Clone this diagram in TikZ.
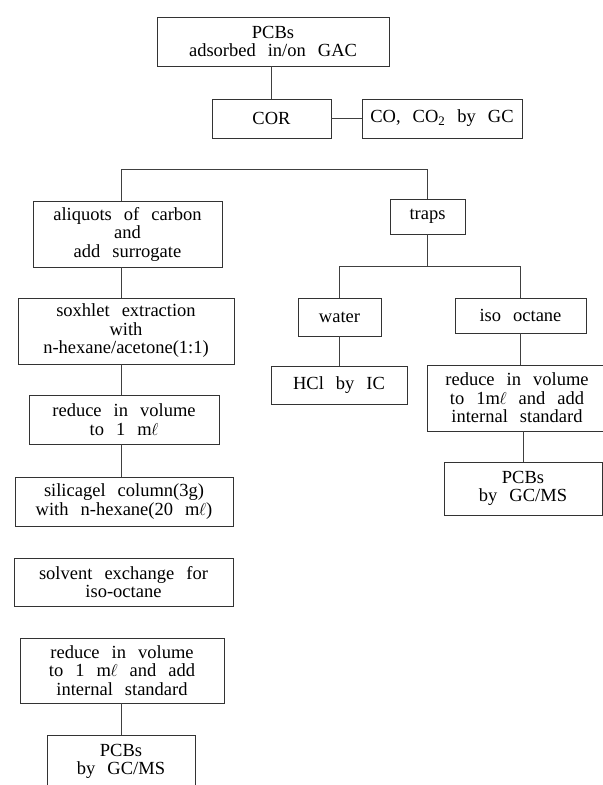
\documentclass[tikz,border=0pt]{standalone}
\usepackage{fontspec}
\setmainfont{Liberation Serif}[WordSpace=2.6]
\newcommand{\mlsym}{m\kern-0.5pt$\ell$}

\begin{document}
\begin{tikzpicture}[x=1bp,y=-1bp,
	box/.style 2 args={draw=black!80,line width=0.8bp,align=center,inner sep=0pt,
		minimum width=#1,minimum height=#2,font=\fontsize{18.5bp}{18.5bp}\selectfont},
	link/.style={draw=black!75,line width=0.8bp}]
	\useasboundingbox (0,0) rectangle (603,785);
	
	% Sample and combustion
	\node[box={232bp}{49bp}] (gac) at (273,41.5) {PCBs\\adsorbed in/on GAC};
	\node[box={119bp}{39bp}] (cor) at (271.5,118.5) {COR};
	\node[box={160bp}{39bp}] (cogc) at (442,118.5) {CO, CO\textsubscript{2} by GC};
	
	% Carbon branch
	\node[box={189bp}{66bp}] (aliq) at (127.5,234) {aliquots of carbon\\and\\add surrogate};
	\node[box={216bp}{66bp}] (soxh) at (126,331) {soxhlet extraction\\with\\n-hexane/acetone(1:1)};
	\node[box={190bp}{49bp}] (redA) at (124,419.5) {reduce in volume\\to 1 \mlsym};
	\node[box={218bp}{49bp}] (silc) at (124,501.5) {silicagel column(3g)\\with n-hexane(20 \mlsym)};
	\node[box={219bp}{48bp}] (solv) at (123.5,582) {solvent exchange for\\iso-octane};
	\node[box={204bp}{65bp}] (redB) at (122,670.5) {reduce in volume\\to 1 \mlsym{} and add\\internal standard};
	\node[box={148bp}{53bp}] (msA) at (121,761.5) {PCBs\\by GC/MS};
	
	% Trap branch
	\node[box={75bp}{35bp}] (trap) at (427.5,216.5) {traps};
	\node[box={83bp}{38bp}] (watr) at (339.5,317) {water};
	\node[box={131bp}{35bp}] (isoc) at (520.5,315.5) {iso octane};
	\node[box={136bp}{38bp}] (hcl) at (339,385) {HCl by IC};
	\node[box={180bp}{66bp}] (redC) at (517,398) {reduce in volume\\to 1\mlsym{} and add\\internal standard};
	\node[box={158bp}{53bp}] (msB) at (523,488.5) {PCBs\\by GC/MS};
	
	% Connectors
	\coordinate (bar) at (0,169);
	\coordinate (spine) at (121,0);
	\draw[link] (cor.north |- gac.south) -- (cor.north);
	\draw[link] (cor.east) -- (cogc.west);
	\draw[link] (aliq.north -| spine) -- (spine |- bar) -- (trap.north |- bar) -- (trap.north);
	\draw[link] (aliq.south -| spine) -- (soxh.north -| spine);
	\draw[link] (soxh.south -| spine) -- (redA.north -| spine);
	\draw[link] (redA.south -| spine) -- (silc.north -| spine);
	\draw[link] (redB.south -| spine) -- (msA.north -| spine);
	\draw[link] (trap.south) -- ++(0,32) coordinate (tj);
	\draw[link] (watr.north) |- (tj) -| (isoc.north);
	\draw[link] (watr.south) -- (watr.south |- hcl.north);
	\draw[link] (isoc.south) -- (isoc.south |- redC.north);
	\draw[link] (msB.north |- redC.south) -- (msB.north);
\end{tikzpicture}
\end{document}
